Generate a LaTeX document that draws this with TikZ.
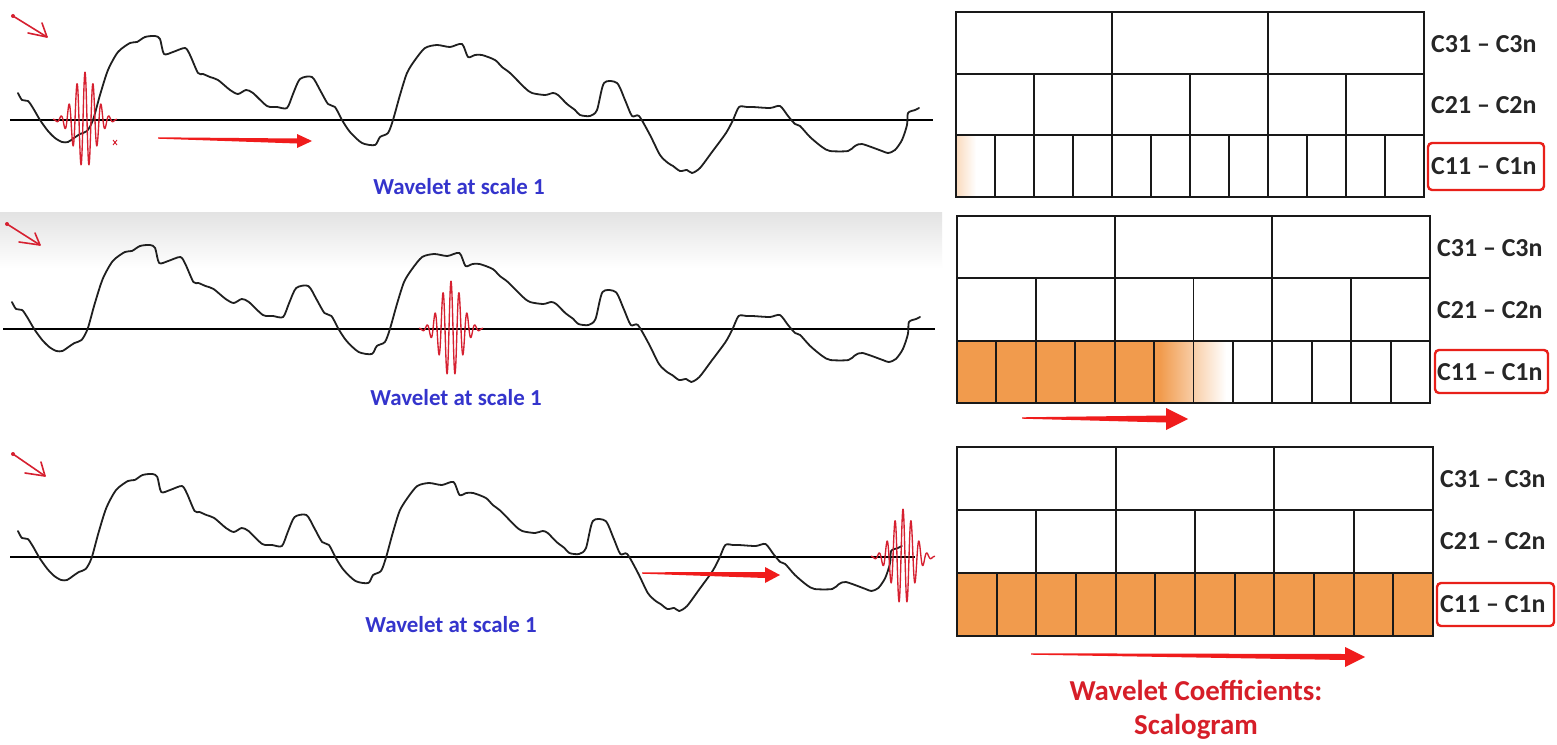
\documentclass[tikz,border=0pt]{standalone}
\usepackage{fontspec}
\setmainfont{Carlito}
\definecolor{wavred}{RGB}{214,32,48}
\definecolor{arrowred}{RGB}{240,28,28}
\definecolor{boxred}{RGB}{232,32,26}
\definecolor{capblue}{RGB}{52,52,204}
\definecolor{titlered}{RGB}{214,30,40}
\definecolor{coeforange}{RGB}{241,155,77}
\newcommand\drawsignal{%
\draw[signal] plot[smooth,tension=0.45] coordinates {(18,93) (22,100) (28,101) (33,108) (40,120) (48,131) (55,138) (62,142) (68,142) (74,138) (80,134) (87,131) (93,120) (100,95) (108,70) (118,52) (130,43) (137,42) (145,37) (155,36) (160,39) (164,54) (173,52) (185,48) (190,55) (198,73) (203,74) (210,77) (218,80) (230,90) (238,94) (246,90) (253,93) (267,106) (277,107) (287,108) (293,94) (300,79) (312,77) (320,90) (328,104) (335,107) (342,120) (350,132) (362,143) (375,145) (380,137) (388,133) (393,120) (400,95) (407,73) (415,60) (425,48) (437,45) (450,47) (462,44) (468,57) (475,55) (482,55) (495,60) (502,67) (510,73) (525,88) (532,93) (545,95) (553,93) (558,95) (567,104) (575,110) (580,115) (590,116) (597,110) (604,83) (617,83) (625,100) (632,116) (639,116) (650,135) (660,155) (668,163) (673,166) (680,171) (687,170) (692,173) (700,168) (712,152) (726,133) (733,120) (739,107) (747,107) (753,107) (770,108) (780,106) (788,116) (795,124) (800,126) (810,137) (822,147) (830,151) (848,151) (855,146) (862,144) (882,151) (888,153) (895,150) (902,140) (907,125) (908,113) (915,110) (919,108)};}
\newcommand\drawwavelet[2]{%
\draw[wav] plot[domain=-32:32,samples=220] ({#1+\x},{#2-48*exp(-(\x*\x)/230)*cos(45*\x)});}
\newcommand\fatarrow[7]{%
\fill[arrowred] (#1,{#2-0.7}) -- (#5,{#4-#7}) -- (#5,{#4-#6}) -- (#3,#4) -- (#5,{#4+#6}) -- (#5,{#4+#7}) -- (#1,{#2+0.7}) -- cycle;}
\newcommand\scalo[4]{%
\pgfmathsetmacro\gw{#3-#1}%
\pgfmathsetmacro\gh{(#4-#2)/3}%
\draw[gridline] (#1,{#2+\gh}) -- (#3,{#2+\gh});
\draw[gridline] (#1,{#2+2*\gh}) -- (#3,{#2+2*\gh});
\foreach \i in {1,2} \draw[gridline] ({#1+\i*\gw/3},#2) -- ({#1+\i*\gw/3},{#2+\gh});
\foreach \i in {1,...,5} \draw[gridline] ({#1+\i*\gw/6},{#2+\gh}) -- ({#1+\i*\gw/6},{#2+2*\gh});
\foreach \i in {1,...,11} \draw[gridline] ({#1+\i*\gw/12},{#2+2*\gh}) -- ({#1+\i*\gw/12},#4);
\draw[gridline] (#1,#2) rectangle (#3,#4);}
\newcommand\handarrow[8]{%
\fill[wavred] (#1,#2) circle (2);
\draw[hand] (#1,#2) -- (#3,#4);
\draw[hand] (#5,#6) -- (#3,#4) -- (#7,#8);}
\begin{document}
\begin{tikzpicture}[x=1bp,y=-1bp,
  signal/.style={line width=1.8bp,draw=black!88,line join=round,line cap=round},
  axis/.style={line width=1.3bp,draw=black},
  wav/.style={line width=1.35bp,draw=wavred,line join=round},
  gridline/.style={line width=1.9bp,draw=black!90},
  hand/.style={line width=1.6bp,draw=wavred,line cap=round,line join=round},
  coef/.style={font=\bfseries\fontsize{26}{30}\selectfont,text=black!85,anchor=west,inner sep=0pt},
  redbox/.style={draw=boxred,line width=2.4bp,rounded corners=4bp},
  caption/.style={font=\bfseries\fontsize{23}{26}\selectfont,text=capblue,inner sep=0pt},
  title/.style={font=\bfseries\fontsize{29}{32}\selectfont,text=titlered,inner sep=0pt}]
\useasboundingbox (0,0) rectangle (1557,745);
\fill[white] (0,0) rectangle (1557,745);
% panel 2 grey header
\shade[top color=black!11,bottom color=white] (0,212) rectangle (942,268);

% ---------- panel 1 ----------
\draw[axis] (10,120) -- (933,120);
\drawsignal
\drawwavelet{85}{120}
\draw[wavred,line width=0.9bp] (113,140) -- (117,145) (117,140) -- (113,145);
\handarrow{13}{16}{47}{37}{28}{33}{42}{23}
\fatarrow{158}{138}{312}{141}{297}{7}{2.5}
\node[caption] (cap1) at (459,187) {Wavelet at scale 1};

% ---------- panel 2 ----------
\draw[axis] (3,329) -- (935,329);
\begin{scope}[shift={(-6.14,209)},xscale=1.0078]
\drawsignal
\end{scope}
\drawwavelet{451}{329}
\handarrow{7}{224}{40}{245}{19}{242}{35}{233}
\node[caption] (cap2) at (456,398) {Wavelet at scale 1};

% ---------- panel 3 ----------
\draw[axis] (10,557) -- (915,557);
\begin{scope}[shift={(0.34,438)},xscale=0.981]
\drawsignal
\end{scope}
\drawwavelet{903}{557}
\handarrow{13}{454}{45}{476}{25}{473}{41}{462}
\fatarrow{642}{573}{780}{575}{765}{8}{3}
\node[caption] (cap3) at (451,625) {Wavelet at scale 1};

% ---------- scalogram 1 ----------
\shade[left color=coeforange!35,right color=white] (957,136) rectangle (976,196);
\scalo{956}{12}{1424}{197}
\node[coef] (a31) at (1431,44) {C31 – C3n};
\node[coef] (a21) at (1431,105) {C21 – C2n};
\node[coef] (a11) at (1431,166) {C11 – C1n};
\draw[redbox] (1428,143) rectangle (1544,190);

% ---------- scalogram 2 ----------
\fill[coeforange] (957,341) rectangle (1160,403);
\shade[left color=coeforange,right color=white] (1160,341) rectangle (1226,403);
\scalo{957}{216}{1430}{403}
\node[coef] (b31) at (1437,248) {C31 – C3n};
\node[coef] (b21) at (1437,310) {C21 – C2n};
\node[coef] (b11) at (1437,372) {C11 – C1n};
\draw[redbox] (1435,350) rectangle (1548,393);
\fatarrow{1022}{418}{1188}{419}{1166}{11}{3.5}

% ---------- scalogram 3 ----------
\fill[coeforange] (957,573) rectangle (1433,636);
\scalo{957}{447}{1433}{636}
\node[coef] (c31) at (1440,479) {C31 – C3n};
\node[coef] (c21) at (1440,541) {C21 – C2n};
\node[coef] (c11) at (1440,604) {C11 – C1n};
\draw[redbox] (1437,583) rectangle (1554,626);
\fatarrow{1031}{654}{1365}{657}{1345}{10}{3}

\node[title] (t1) at (1196,690) {Wavelet Coefficients:};
\node[title] (t2) at (1196,727) {Scalogram};
\end{tikzpicture}
\end{document}
